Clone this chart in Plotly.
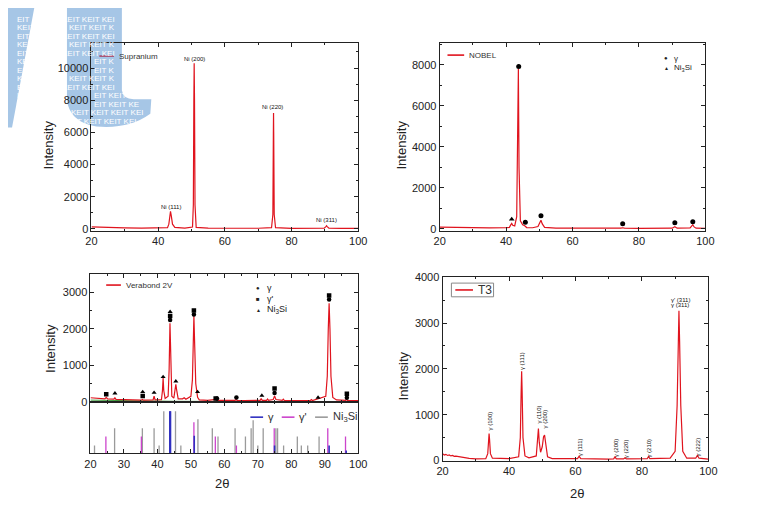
import plotly.graph_objects as go

W, H = 778, 513
OFF = 8  # page body margin of the html page
RED = "#e0141e"

# ---------------- Supranium (top left)
sup_tt = [20, 22, 25, 30, 35, 40, 42.8, 43.2, 43.45, 43.7, 43.95, 44.3, 45, 48,
          50.3, 50.55, 50.7, 50.8, 50.9, 51.05, 51.4, 55, 60, 70,
          74.0, 74.4, 74.55, 74.6, 74.65, 74.8, 75.2, 80,
          89.8, 90.3, 90.5, 90.7, 91.2, 95, 100]
sup_int = [130, 110, 90, 70, 60, 55, 80, 300, 800, 1100, 800, 300, 100, 60,
           120, 1500, 8000, 10300, 8000, 1500, 100, 55, 45, 45,
           80, 900, 6000, 7200, 6000, 900, 80, 40,
           50, 150, 200, 150, 50, 40, 40]
sup_lbl_tt = [43.7, 50.8, 74.4, 90.4]
sup_lbl_y = [1340, 10560, 7560, 530]
sup_lbl = ["Ni (111)", "Ni (200)", "Ni (220)", "Ni (311)"]

# ---------------- NOBEL (top right)
nob_tt = [20, 25, 30, 35, 40, 41.0, 41.4, 41.7, 42.0, 42.6, 43.2, 43.5, 43.7, 43.9,
          44.3, 45.0, 45.6, 46.2, 48, 49.6, 50.1, 50.5, 50.9, 51.6, 55, 60, 70,
          74.6, 75.1, 75.6, 80, 90.0, 90.8, 91.5, 95.4, 95.9, 96.2, 96.6, 97.2, 100]
nob_int = [90, 70, 60, 55, 60, 80, 200, 270, 180, 150, 600, 4000, 7800, 3000,
           400, 200, 160, 70, 60, 120, 280, 430, 250, 80, 40, 35, 35,
           40, 60, 40, 30, 40, 110, 40, 50, 180, 210, 100, 40, 30]
nob_gamma_tt = [43.8, 45.8, 50.5, 75.1, 90.8, 96.2]
nob_gamma_y = [7920, 330, 640, 260, 300, 350]
nob_ni3si_tt = [41.7]
nob_ni3si_y = [470]

# ---------------- Verabond 2V (bottom left)
vb_tt = [20, 22, 24.3, 24.7, 25.1, 27.0, 27.3, 27.6, 30, 35.2, 35.5, 35.8, 38.7, 39.0, 39.3,
         41.2, 41.5, 41.7, 41.9, 42.3, 43.2, 43.5, 43.75, 44.0, 44.3, 44.9, 45.25, 45.5,
         45.75, 46.2, 47.5, 48.0, 48.5, 50.0, 50.45, 50.65, 50.9, 51.15, 51.45, 52.0, 52.5,
         55, 57.2, 57.5, 57.8, 60, 63.2, 63.5, 63.8, 66, 70.7, 71.0, 71.3, 72.6, 72.9, 73.2,
         74.6, 75.0, 75.4, 77.3, 77.6, 77.9, 82, 85.7, 86.0, 86.3, 90.3, 90.75, 91.05, 91.3,
         91.55, 91.85, 92.4, 93.5, 96.2, 96.5, 96.8, 100]
vb_int = [110, 95, 80, 120, 80, 70, 110, 65, 55, 45, 65, 45, 50, 150, 50,
          60, 300, 650, 300, 90, 150, 900, 2150, 900, 150, 100, 320, 480,
          320, 80, 80, 110, 70, 150, 600, 1500, 2350, 1500, 500, 120, 50,
          40, 45, 65, 40, 35, 40, 60, 35, 35, 40, 90, 40, 40, 75, 40,
          60, 160, 60, 40, 70, 35, 35, 35, 60, 35, 150, 700, 2000, 2700,
          2000, 700, 120, 50, 40, 60, 35, 30]
vb_bg_tt = [20, 30, 45, 60, 100]
vb_bg_int = [45, 25, 12, 8, 5]

vb_gamma_tt = [43.8, 50.9, 57.8, 63.6, 75.0, 91.3, 96.6]
vb_gamma_y = [2240, 2390, 90, 115, 240, 2800, 107]
vb_gp_tt = [24.7, 35.6, 43.8, 50.9, 57.4, 75.0, 91.3, 96.6]
vb_gp_y = [205, 160, 2350, 2500, 90, 365, 2910, 220]
vb_ni3si_tt = [27.3, 35.6, 39.0, 41.7, 43.8, 45.5, 52.0, 71.2, 88.0]
vb_ni3si_y = [230, 268, 250, 680, 2465, 560, 270, 170, 115]

# reference stick patterns (relative heights)
ref_gamma_tt = [43.7, 43.9, 51.0, 75.0, 91.3, 96.4]
ref_gamma_h = [1.0, 1.0, 0.42, 0.19, 0.19, 0.07]
ref_gp_tt = [24.6, 35.2, 43.8, 50.9, 57.3, 63.6, 74.9, 90.9, 96.2]
ref_gp_h = [0.4, 0.4, 1.0, 0.74, 0.4, 0.19, 0.6, 0.6, 0.4]
ref_ni3si_tt = [21.2, 27.2, 35.5, 39.0, 40.5, 41.9, 45.4, 47.0, 52.1, 56.4, 58.1, 63.2,
                66.3, 68.0, 68.6, 70.0, 71.6, 75.4, 75.9, 77.7, 81.8, 83.0, 84.9, 88.3]
ref_ni3si_h = [0.19, 0.6, 0.6, 0.6, 0.19, 1.0, 1.0, 0.19, 0.81, 0.6, 0.4, 0.6,
               0.4, 0.6, 0.79, 0.19, 0.6, 0.6, 0.6, 0.19, 0.4, 0.19, 0.19, 0.4]

# ---------------- T3 (bottom right)
t3_tt = [20, 20.5, 21, 21.5, 22, 22.5, 23, 23.5, 24, 25, 26, 27, 28, 30, 33, 33.6, 33.85,
         34.0, 34.15, 34.4, 35.0, 40, 42.9, 43.4, 43.65, 43.8, 43.95, 44.2, 44.8, 46,
         48.2, 48.6, 48.85, 49.1, 49.5, 50.0, 50.4, 50.7, 51.0, 51.6, 53, 60.6, 61.1,
         61.6, 70, 71.5, 71.9, 72.3, 74.5, 74.9, 75.3, 81.6, 82.0, 82.4, 88.5, 90.0,
         90.6, 90.95, 91.15, 91.35, 91.7, 92.3, 93.5, 96.2, 96.7, 97.2, 100]
t3_int = [150, 120, 135, 110, 120, 100, 110, 90, 95, 80, 60, 50, 45, 35, 40, 150, 450,
          590, 450, 150, 50, 40, 80, 500, 1500, 1950, 1500, 500, 100, 60,
          100, 500, 700, 400, 180, 300, 520, 555, 350, 80, 40, 40, 90,
          40, 30, 35, 80, 35, 35, 60, 35, 40, 90, 40, 50, 200,
          1200, 2600, 3270, 2600, 1200, 200, 50, 50, 110, 50, 30]
t3_lbl_tt = [34.2, 43.9, 49.0, 50.9, 61.2, 72.1, 75.1, 82.1, 96.8]
t3_lbl_y = [870, 2170, 1000, 900, 300, 280, 260, 280, 300]
t3_lbl = ["γ (100)", "γ (111)", "γ (110)", "γ (200)", "γ (111)",
          "γ (200)", "γ (220)", "γ (210)", "γ (222)"]
t3_top_lbl = ["γ' (311)", "γ (311)"]
t3_top_y = [3510, 3395]


# page pixel -> paper coordinates
def fx(x):
    return (x - OFF) / W


def fy(y):
    return 1 - (y - OFF) / H


def p(x, y):
    return f"{fx(x):.5f},{fy(y):.5f}"


def dx(a, b):
    return [fx(a), fx(b)]


def dy(top, bottom):
    return [fy(bottom), fy(top)]


def sticks(tt, h):
    xs, ys = [], []
    for t, v in zip(tt, h):
        xs += [t, t, None]
        ys += [0, v, None]
    return xs, ys


fig = go.Figure()

# curves
fig.add_trace(go.Scatter(x=sup_tt, y=sup_int, mode="lines", line=dict(color=RED, width=1.2),
                         xaxis="x", yaxis="y"))
fig.add_trace(go.Scatter(x=nob_tt, y=nob_int, mode="lines", line=dict(color=RED, width=1.2),
                         xaxis="x2", yaxis="y2"))
fig.add_trace(go.Scatter(x=nob_gamma_tt, y=nob_gamma_y, mode="markers",
                         marker=dict(symbol="circle", size=5, color="black"), xaxis="x2", yaxis="y2"))
fig.add_trace(go.Scatter(x=nob_ni3si_tt, y=nob_ni3si_y, mode="markers",
                         marker=dict(symbol="triangle-up", size=5, color="black"), xaxis="x2", yaxis="y2"))

fig.add_trace(go.Scatter(x=vb_bg_tt, y=vb_bg_int, mode="lines", line=dict(color="#3a9a3a", width=1),
                         xaxis="x3", yaxis="y3"))
fig.add_trace(go.Scatter(x=vb_tt, y=vb_int, mode="lines", line=dict(color=RED, width=1.2),
                         xaxis="x3", yaxis="y3"))
for tt, yy, sym in [(vb_gamma_tt, vb_gamma_y, "circle"), (vb_gp_tt, vb_gp_y, "square"),
                    (vb_ni3si_tt, vb_ni3si_y, "triangle-up")]:
    fig.add_trace(go.Scatter(x=tt, y=yy, mode="markers",
                             marker=dict(symbol=sym, size=4.5, color="black"), xaxis="x3", yaxis="y3"))

for tt, hh, col, w in [(ref_ni3si_tt, ref_ni3si_h, "#9a9a9a", 1.3),
                       (ref_gp_tt, ref_gp_h, "#cc44cc", 1.3),
                       (ref_gamma_tt, ref_gamma_h, "#3030c0", 1.6)]:
    xs, ys = sticks(tt, hh)
    fig.add_trace(go.Scatter(x=xs, y=ys, mode="lines", line=dict(color=col, width=w),
                             xaxis="x4", yaxis="y4"))

fig.add_trace(go.Scatter(x=t3_tt, y=t3_int, mode="lines", line=dict(color=RED, width=1.2),
                         xaxis="x5", yaxis="y5"))

fig.update_traces(showlegend=False, hoverinfo="skip")


def ax(rng, dtick, minor, dom, anchor, labels=True):
    return dict(range=rng, dtick=dtick, tick0=0, domain=dom, anchor=anchor,
                showline=True, linecolor="#222", linewidth=1, mirror="ticks",
                ticks="inside", ticklen=4, tickcolor="#222", showgrid=False, zeroline=False,
                showticklabels=labels, tickformat="d", tickfont=dict(size=11, color="#222"),
                minor=dict(ticks="inside", ticklen=2, dtick=minor, tickcolor="#222", showgrid=False))


layout = dict(
    width=W, height=H, margin=dict(l=0, r=0, t=0, b=0),
    paper_bgcolor="white", plot_bgcolor="rgba(0,0,0,0)",
    font=dict(family="Arial, Liberation Sans, sans-serif", color="#222"),
    xaxis=ax([20, 100], 20, 10, dx(87, 359), "y"),
    yaxis=ax([-103, 11534], 2000, 1000, dy(38, 229.4), "x"),
    xaxis2=ax([20, 100], 20, 10, dx(442, 713), "y2"),
    yaxis2=ax([-100, 9050], 2000, 1000, dy(38, 229.8), "x2"),
    xaxis3=ax([20, 100], 10, 5, dx(86, 359), "y3", labels=False),
    yaxis3=ax([-20, 3505], 1000, 500, dy(273.5, 405), "x3"),
    xaxis4=ax([20, 100], 10, 5, dx(86, 359), "y4"),
    yaxis4=dict(range=[0, 1.21], domain=dy(405, 457), anchor="x4", showline=True, linecolor="#222",
                linewidth=1, mirror=True, ticks="", showticklabels=False, showgrid=False, zeroline=False),
    xaxis5=ax([20, 100], 20, 10, dx(445, 716), "y5"),
    yaxis5=ax([-15, 4000], 1000, 500, dy(277, 465), "x5"),
)
fig.update_layout(**layout)

shapes = []
annotations = []

# watermark logo (light blue "lt" with a tiled KEIT text)
BLUE = "#a6c6e6"
shapes.append(dict(type="path", xref="paper", yref="paper", layer="below", line=dict(width=0),
                   fillcolor=BLUE,
                   path=f"M{p(0, 0)} L{p(29, 0)} L{p(6, 124)} L{p(0, 124)} Z"))
shapes.append(dict(type="path", xref="paper", yref="paper", layer="below", line=dict(width=0),
                   fillcolor=BLUE,
                   path=(f"M{p(62, 0)} L{p(118, 0)} L{p(118, 86)} Q{p(119, 95)} {p(130, 95)} "
                         f"L{p(148, 95)} L{p(147, 110)} Q{p(125, 126)} {p(92, 123)} "
                         f"Q{p(64, 118)} {p(62, 95)} Z")))


def wm_text(x, y, s):
    annotations.append(dict(xref="paper", yref="paper", x=fx(x), y=fy(y),
                            xanchor="left", yanchor="middle", showarrow=False,
                            text=s, font=dict(size=8, color="white")))


tick_rows = [63, 96]
for k in range(1, 14):
    yk = 4.7 + 8.67 * k
    off = 7 if k % 2 else 0
    wm_text(9, yk, "EIT" if off else "KEIT")
    near_tick = any(abs(yk - t) < 8 for t in tick_rows)
    if yk < 90:
        if near_tick:
            wm_text(88, yk, "EIT K")
        else:
            wm_text(62 - off, yk, "KEIT KEIT KEI" if off else "KEIT KEIT K")
    elif yk < 120:
        if near_tick:
            wm_text(88, yk, "EIT KEIT KE")
        else:
            wm_text(64 - off, yk, "KEIT KEIT KEIT KEI")

# legends


def line_legend(x0, x1, y, col, text, size=8, tx=None):
    shapes.append(dict(type="line", xref="paper", yref="paper",
                       x0=fx(x0), x1=fx(x1), y0=fy(y), y1=fy(y), line=dict(color=col, width=1.6)))
    annotations.append(dict(xref="paper", yref="paper", x=fx(tx if tx else x1 + 3), y=fy(y),
                            xanchor="left", yanchor="middle", showarrow=False,
                            text=text, font=dict(size=size, color="#333")))


def text_at(x, y, text, size=10, anchor="left", angle=0):
    annotations.append(dict(xref="paper", yref="paper", x=fx(x), y=fy(y), xanchor=anchor,
                            yanchor="middle", showarrow=False, text=text, textangle=angle,
                            font=dict(size=size, color="#222")))


line_legend(95, 110, 51, "#a8486a", "Supranium")
line_legend(450, 467, 50, RED, "NOBEL")
line_legend(102, 117, 285, RED, "Verabond 2V")
shapes.append(dict(type="rect", xref="paper", yref="paper", x0=fx(454), x1=fx(497),
                   y0=fy(297), y1=fy(283), line=dict(color="#888", width=1)))
line_legend(458, 476, 290, RED, "T3", size=12, tx=479)

# marker legends
text_at(673, 53.3, "●", 6, "center")
text_at(679, 53.3, "γ", 8)
text_at(673, 63.3, "▲", 5, "center")
text_at(679, 63.3, "Ni<sub>3</sub>Si", 8)
text_at(257, 288.3, "●", 6, "center")
text_at(264, 288.3, "γ", 9)
text_at(257, 299.3, "■", 6, "center")
text_at(264, 299.3, "γ'", 9)
text_at(257, 310, "▲", 5, "center")
text_at(264, 310, "Ni<sub>3</sub>Si", 9)

# stick legend
for x0, x1, col, lbl, tx in [(249, 262, "#3030c0", "γ", 265), (281, 294, "#cc44cc", "γ'", 297),
                             (315, 328, "#9a9a9a", "Ni<sub>3</sub>Si", 331)]:
    line_legend(x0, x1, 420, col, lbl, size=11, tx=tx)

# axis titles
for x, y in [(43, 142), (403, 142), (45, 350), (405, 378)]:
    text_at(x, y, "Intensity", 13, "center", -90)
text_at(220, 488, "2θ", 13, "center")
text_at(582, 498, "2θ", 13, "center")

# peak labels
for t, y, s in zip(sup_lbl_tt, sup_lbl_y, sup_lbl):
    annotations.append(dict(xref="x", yref="y", x=t, y=y, showarrow=False, text=s,
                            font=dict(size=6, color="#111")))
for t, y, s in zip(t3_lbl_tt, t3_lbl_y, t3_lbl):
    annotations.append(dict(xref="x5", yref="y5", x=t, y=y, showarrow=False, text=s,
                            textangle=-90, font=dict(size=6, color="#111")))
for y, s in zip(t3_top_y, t3_top_lbl):
    annotations.append(dict(xref="x5", yref="y5", x=91.5, y=y, showarrow=False, text=s,
                            font=dict(size=6, color="#111")))

fig.update_layout(shapes=shapes, annotations=annotations)
fig.write_html("out.html")
